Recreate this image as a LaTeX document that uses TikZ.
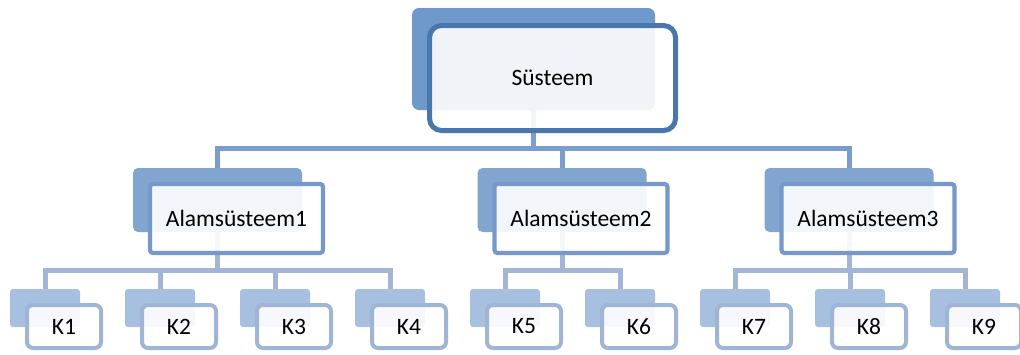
\documentclass[tikz,border=0pt]{standalone}
\usepackage{fontspec}
\setmainfont{Carlito}
\usetikzlibrary{positioning, calc}
\definecolor{topback}{HTML}{6F98CB}
\definecolor{topline}{HTML}{4A76AE}
\definecolor{midback}{HTML}{82A5D0}
\definecolor{midline}{HTML}{7698CA}
\definecolor{lowback}{HTML}{A7C0DF}
\definecolor{lowline}{HTML}{A0B4D6}
\definecolor{verbtop}{HTML}{7B9CCF}
\definecolor{verblow}{HTML}{A2B5D7}

\begin{document}
\begin{tikzpicture}[x=1pt, y=-1pt,
      hinten/.style={fill=#1, inner sep=0pt},
      kasten/.style={draw=#1, fill=white, fill opacity=0.9, text opacity=1,
        text=black, inner sep=0pt, font=\fontsize{23.5}{28}\selectfont},
      ebene1/.style={hinten=topback, rounded corners=7pt,
        minimum width=243pt, minimum height=102pt},
      ebene2/.style={hinten=midback, rounded corners=5pt,
        minimum width=169pt, minimum height=64pt},
      ebene3/.style={hinten=lowback, rounded corners=3pt,
        minimum width=70pt, minimum height=38pt},
      kasten1/.style={kasten=topline, line width=5pt, rounded corners=12pt,
        minimum width=246pt, minimum height=105pt},
      kasten2/.style={kasten=midline, line width=4.2pt, rounded corners=3pt,
        minimum width=173pt, minimum height=69pt},
      kasten3/.style={kasten=lowline, line width=4pt, rounded corners=6pt,
        minimum width=74pt, minimum height=43pt},
      linie1/.style={verbtop, line width=5pt},
      linie2/.style={verblow, line width=5pt}]
    \useasboundingbox (0,0) rectangle (1020,354);
    % hintere Flaechen
    \node[ebene1] (sb) at (533.5,59) {};
    \node[ebene2] (a1b) at (217.5,200) {};
    \node[ebene2] (a2b) at (562,200) {};
    \node[ebene2] (a3b) at (849,200) {};
    \node[ebene3] (k1b) at (45,308) {};
    \node[ebene3, right=44.6pt of k1b] (k2b) {};
    \node[ebene3, right=44.6pt of k2b] (k3b) {};
    \node[ebene3, right=44.6pt of k3b] (k4b) {};
    \node[ebene3, right=44.6pt of k4b] (k5b) {};
    \node[ebene3, right=44.6pt of k5b] (k6b) {};
    \node[ebene3, right=44.6pt of k6b] (k7b) {};
    \node[ebene3, right=44.6pt of k7b] (k8b) {};
    \node[ebene3, right=44.6pt of k8b] (k9b) {};
    % Verbindungen
    \draw[linie1] (sb.south) -- ++(0,38) -| (a1b.north);
    \draw[linie1] (sb.south) -- ++(0,38) -| (a2b.north);
    \draw[linie1] (sb.south) -- ++(0,38) -| (a3b.north);
    \draw[linie2] (a1b.south) -- ++(0,38) -| (k1b.north);
    \draw[linie2] (a1b.south) -- ++(0,38) -| (k2b.north);
    \draw[linie2] (a1b.south) -- ++(0,38) -| (k3b.north);
    \draw[linie2] (a1b.south) -- ++(0,38) -| (k4b.north);
    \draw[linie2] (a2b.south) -- ++(0,38) -| (k5b.north);
    \draw[linie2] (a2b.south) -- ++(0,38) -| (k6b.north);
    \draw[linie2] (a3b.south) -- ++(0,38) -| (k7b.north);
    \draw[linie2] (a3b.south) -- ++(0,38) -| (k8b.north);
    \draw[linie2] (a3b.south) -- ++(0,38) -| (k9b.north);
    % vordere Kaesten
    \node[kasten1] (s) at ($(sb)+(19,19)$) {Süsteem};
    \node[kasten2] (a1) at ($(a1b)+(19,18.5)$) {Alamsüsteem1};
    \node[kasten2] (a2) at ($(a2b)+(19,18.5)$) {Alamsüsteem2};
    \node[kasten2] (a3) at ($(a3b)+(19,18.5)$) {Alamsüsteem3};
    \node[kasten3] (k1) at ($(k1b)+(19,18.5)$) {K1};
    \node[kasten3] (k2) at ($(k2b)+(19,18.5)$) {K2};
    \node[kasten3] (k3) at ($(k3b)+(19,18.5)$) {K3};
    \node[kasten3] (k4) at ($(k4b)+(19,18.5)$) {K4};
    \node[kasten3] (k5) at ($(k5b)+(19,18.5)$) {K5};
    \node[kasten3] (k6) at ($(k6b)+(19,18.5)$) {K6};
    \node[kasten3] (k7) at ($(k7b)+(19,18.5)$) {K7};
    \node[kasten3] (k8) at ($(k8b)+(19,18.5)$) {K8};
    \node[kasten3] (k9) at ($(k9b)+(19,18.5)$) {K9};
  \end{tikzpicture}
\end{document}
